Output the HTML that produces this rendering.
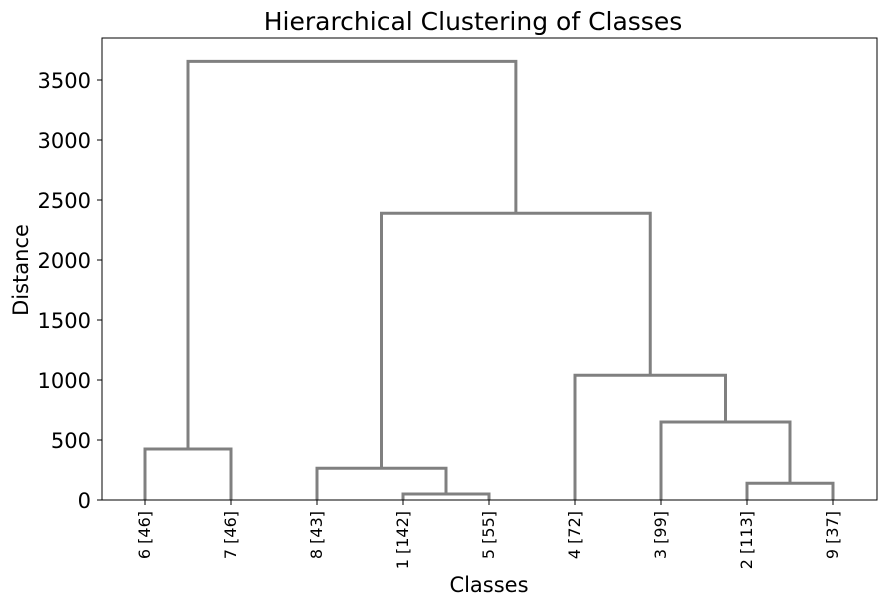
<!DOCTYPE html>
<html><head><meta charset="utf-8"><style>
body{margin:0;background:#fff;}
svg text{font-family:"DejaVu Sans","Liberation Sans",sans-serif;fill:#000;}
</style></head><body>
<svg id="chart" width="887" height="606" xmlns="http://www.w3.org/2000/svg">
<rect x="0" y="0" width="887" height="606" fill="#fff"/>
<text x="473" y="30" font-size="25" text-anchor="middle">Hierarchical Clustering of Classes</text>
<text x="489" y="592" font-size="21" text-anchor="middle">Classes</text>
<text transform="translate(28,270) rotate(-90)" font-size="21" text-anchor="middle">Distance</text>
<g id="links"></g>
<g id="axes"></g>
</svg>
<script>
const leafLabels = ["6 [46]","7 [46]","8 [43]","1 [142]","5 [55]","4 [72]","3 [99]","2 [113]","9 [37]"];
// merges: node ids 0..8 leaves, merge k creates node 9+k
const mergeLeft = [3, 7, 0, 2, 6, 5, 12, 11];
const mergeRight = [4, 8, 1, 9, 10, 13, 14, 15];
const mergeHeight = [50, 140, 425, 265, 650, 1040, 2390, 3655];
const yTicks = [0, 500, 1000, 1500, 2000, 2500, 3000, 3500];

const L=102,R=877,T=38,B=500;
const NS='http://www.w3.org/2000/svg';
const yScale=v=>B-v*0.12;
const xLeaf=i=>145+i*86;
const links=document.getElementById('links');
const axes=document.getElementById('axes');

const nodeX=[],nodeY=[];
for(let i=0;i<leafLabels.length;i++){nodeX.push(xLeaf(i));nodeY.push(0);}
for(let k=0;k<mergeLeft.length;k++){
  const a=mergeLeft[k],b=mergeRight[k],h=mergeHeight[k];
  const p=document.createElementNS(NS,'path');
  const xa=nodeX[a],xb=nodeX[b];
  p.setAttribute('d',`M${xa},${yScale(nodeY[a])}V${yScale(h)}H${xb}V${yScale(nodeY[b])}`);
  p.setAttribute('fill','none');p.setAttribute('stroke','#808080');p.setAttribute('stroke-width','3');
  
  
  links.appendChild(p);
  nodeX.push((xa+xb)/2);nodeY.push(h);
}
const frame=document.createElementNS(NS,'rect');
frame.setAttribute('x',L);frame.setAttribute('y',T);frame.setAttribute('width',R-L);frame.setAttribute('height',B-T);
frame.setAttribute('fill','none');frame.setAttribute('stroke','#000');frame.setAttribute('stroke-width','1');


axes.appendChild(frame);
yTicks.forEach(v=>{
  const y=yScale(v);
  const l=document.createElementNS(NS,'line');
  l.setAttribute('x1',L-5);l.setAttribute('x2',L);l.setAttribute('y1',y);l.setAttribute('y2',y);l.setAttribute('stroke','#000');
  
  
  axes.appendChild(l);
  const t=document.createElementNS(NS,'text');
  t.setAttribute('x',L-11);t.setAttribute('y',y+8);t.setAttribute('font-size','21');t.setAttribute('text-anchor','end');
  t.textContent=v;
  
  
  axes.appendChild(t);
});
leafLabels.forEach((s,i)=>{
  const x=xLeaf(i);
  const l=document.createElementNS(NS,'line');
  l.setAttribute('x1',x);l.setAttribute('x2',x);l.setAttribute('y1',B);l.setAttribute('y2',B+5);l.setAttribute('stroke','#000');
  
  
  axes.appendChild(l);
  const t=document.createElementNS(NS,'text');
  t.setAttribute('transform',`translate(${x+5},${B+11}) rotate(-90)`);
  t.setAttribute('font-size','16');t.setAttribute('text-anchor','end');
  t.textContent=s;
  
  
  axes.appendChild(t);
});
</script>
</body></html>
